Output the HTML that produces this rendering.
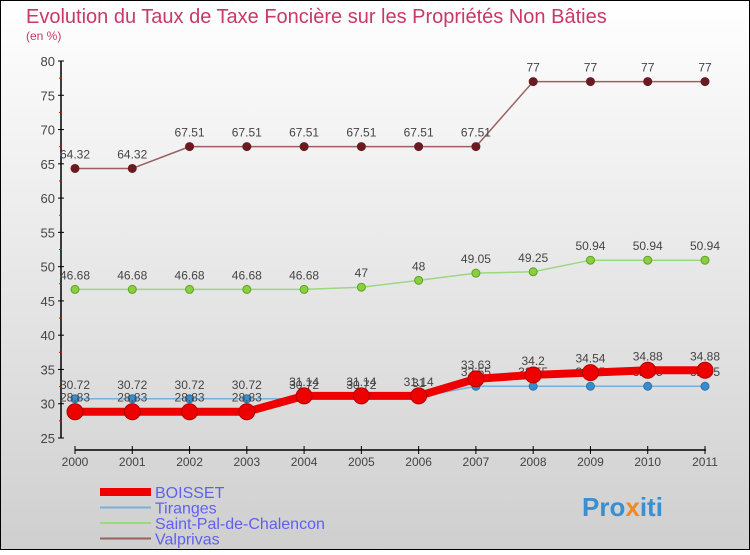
<!DOCTYPE html>
<html><head><meta charset="utf-8"><style>
body{margin:0}
#c{width:750px;height:550px;position:relative;font-family:"Liberation Sans",sans-serif}
</style></head><body>
<div id="c">
<svg id="s" width="750" height="550" xmlns="http://www.w3.org/2000/svg">
<defs><linearGradient id="bg" x1="0" y1="0" x2="0" y2="1"><stop offset="0" stop-color="#ffffff"/><stop offset="1" stop-color="#cfcfcf"/></linearGradient></defs>
<rect x="0.5" y="0.5" width="749" height="549" fill="url(#bg)" stroke="#000"/>
<text x="26" y="23" font-size="20" fill="#c8386a">Evolution du Taux de Taxe Foncière sur les Propriétés Non Bâties</text>
<text x="26" y="40" font-size="12" fill="#c8386a">(en %)</text>
<g id="axes"></g><g id="series"></g><g id="legend"></g>
<text x="582" y="516" font-size="26" font-weight="bold" fill="#3a8fd0">Pro<tspan fill="#f08a20">x</tspan>iti</text>
</svg></div>
<script>
const years=["2000","2001","2002","2003","2004","2005","2006","2007","2008","2009","2010","2011"];
const yTicks=[25,30,35,40,45,50,55,60,65,70,75,80];
const boisset=[28.83,28.83,28.83,28.83,31.14,31.14,31.14,33.63,34.2,34.54,34.88,34.88];
const tiranges=[30.72,30.72,30.72,30.72,30.72,30.72,31,32.55,32.55,32.55,32.55,32.55];
const saintPal=[46.68,46.68,46.68,46.68,46.68,47,48,49.05,49.25,50.94,50.94,50.94];
const valprivas=[64.32,64.32,67.51,67.51,67.51,67.51,67.51,67.51,77,77,77,77];
const NS="http://www.w3.org/2000/svg";
function X(i){return 75+i*(705-75)/(years.length-1);}
function Y(v){return 438-(v-25)*(438-61)/55;}
function mk(t,a,p){const e=document.createElementNS(NS,t);for(const k in a)e.setAttribute(k,a[k]);p.appendChild(e);return e;}
const ax=document.getElementById('axes');
let yl=mk('line',{x1:61,y1:61,x2:61,y2:438,stroke:'#000','stroke-width':1.5},ax);


yTicks.forEach(v=>{
 mk('line',{x1:58,x2:64,y1:Y(v),y2:Y(v),stroke:'#000'},ax);
 if(v<80)mk('line',{x1:59,x2:62,y1:Y(v+2.5),y2:Y(v+2.5),stroke:'#e00'},ax);
 const t=mk('text',{x:55,y:Y(v)+5,'text-anchor':'end','font-size':13,fill:'#444'},ax);t.textContent=v;
 
 
});
let xl=mk('line',{x1:75,y1:450,x2:706,y2:450,stroke:'#000','stroke-width':1.5},ax);


years.forEach((y,i)=>{
 mk('line',{x1:X(i),x2:X(i),y1:446,y2:454,stroke:'#000'},ax);
 const t=mk('text',{x:X(i),y:466,'text-anchor':'middle','font-size':12,fill:'#444'},ax);t.textContent=y;
 
 
});
const sg=document.getElementById('series');
function draw(name,data,color,w,r,pc,stroke){
 const g=mk('g',{},sg);
 
 
 mk('polyline',{points:data.map((v,i)=>X(i)+','+Y(v)).join(' '),fill:'none',stroke:color,'stroke-width':w,'stroke-linejoin':'round'},g);
 data.forEach((v,i)=>{
  const c=mk('circle',{cx:X(i),cy:Y(v),r:r,fill:pc,stroke:stroke,'stroke-width':1},g);
  
  
  const t=mk('text',{x:X(i),y:Y(v)-10,'text-anchor':'middle','font-size':12,fill:'#444'},g);t.textContent=v;
  
  
 });
}
draw('valprivas',valprivas,'#9a6060',1.5,4,'#6a1a20','#6a1a20');
draw('saint-pal',saintPal,'#9bd880',1.5,4,'#88d040','#60a020');
draw('tiranges',tiranges,'#7ab0d8',1.5,4,'#3a8ccc','#2a70a8');
draw('boisset',boisset,'#ee0000',8,8,'#ee0000','#b00000');
const lg=document.getElementById('legend');
[['BOISSET','#ee0000',8],['Tiranges','#7ab0d8',2],['Saint-Pal-de-Chalencon','#9bd880',2],['Valprivas','#9a6060',2]].forEach((d,i)=>{
 const y=492+i*15.5;
 const g=mk('g',{},lg);
 
 
 mk('line',{x1:100,x2:151,y1:y,y2:y,stroke:d[1],'stroke-width':d[2]},g);
 const t=mk('text',{x:155,y:y+6,'font-size':16,fill:'#6060f0'},g);t.textContent=d[0];
});
</script>
</body></html>
